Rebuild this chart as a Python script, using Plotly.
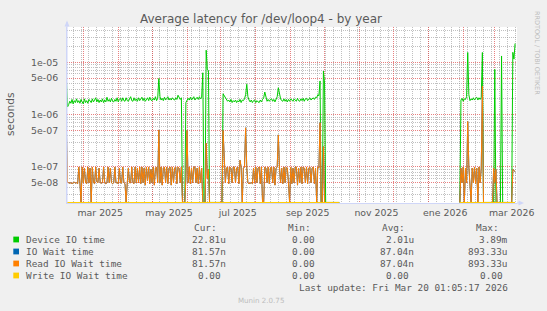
import math
import plotly.graph_objects as go
import pandas as pd

# ---------------- data (daily averages) ----------------
first_day = "2025-02-14"

# Device IO time, microseconds; segment A (Feb 14 .. Jul 2 2025)
device_us_a = [
    5.0, 1.4,
    1.55, 1.8, 1.65, 1.95, 1.6, 1.85, 1.7, 2.0, 1.7, 1.85,
    1.65, 1.95, 1.75, 1.6, 2.0, 1.7, 1.85, 1.65, 1.95, 1.8,
    1.7, 2.0, 1.75, 1.9, 2.1, 1.75, 1.95, 1.7, 1.9, 1.75,
    2.0, 1.7, 1.9, 1.75, 2.15, 1.8, 1.95, 1.75, 2.05, 1.8,
    1.75, 1.95, 1.8, 2.1, 1.75, 1.95, 2.05, 1.8, 2.1, 1.85,
    1.8, 2.1, 1.85, 1.8, 2.0, 2.2, 1.85, 1.8, 2.1, 1.85,
    2.0, 1.8, 2.1, 1.85, 2.0, 2.15, 1.85, 2.05, 1.8, 2.0,
    2.1, 1.85, 2.15, 1.9, 1.85, 2.05, 1.9, 2.2, 1.85, 2.05,
    4.9,
    2.2, 1.9, 2.05, 1.85, 2.15, 1.9, 2.05, 2.2, 1.9, 2.05,
    1.9, 2.1, 1.95, 1.9, 2.1, 1.95, 2.35, 2.2, 1.95, 2.1,
    0, 0, 0,
    1.7, 1.95, 2.05, 1.9, 2.15, 1.9, 2.05, 2.2, 1.9, 2.05, 2.15, 1.95, 2.2, 2.0, 2.15,
    6.3, 0, 0, 17.0, 7.3, 7.0,
    0, 0, 0, 0, 0, 0, 0, 0, 0, 0, 0, 0,
]
# segment B (Jul 3 .. Oct 14 2025)
device_us_b = [
    2.5, 2.3, 2.1, 1.95, 1.8, 1.9, 1.75, 1.95, 1.7, 1.85,
    1.75, 1.9, 1.7, 1.85, 1.75, 1.95, 1.7, 1.9, 1.85, 2.0,
    2.4, 3.8, 2.2, 1.9, 1.75, 1.9, 1.7, 1.85, 1.9, 1.7,
    1.85, 1.75, 1.7, 1.9, 1.75, 1.95, 2.1, 2.7, 2.0, 1.8,
    1.95, 1.8, 1.95, 2.0, 1.8, 1.95, 1.75, 2.0, 2.2, 3.26,
    2.3, 2.0, 1.85, 1.8, 2.0, 1.8, 1.95, 1.75, 1.95, 1.8,
    2.0, 1.85, 1.8, 2.0, 1.85, 1.8, 2.05, 1.85, 1.8, 2.0,
    1.85, 2.05, 1.8, 2.0, 2.05, 1.85, 2.0, 2.1, 1.9, 2.05,
    2.1, 1.95, 2.15, 2.1, 2.4, 2.3, 4.4,
    0, 0, 6.8, 4.0,
    0, 0, 0, 0, 0, 0, 0, 0, 0, 0, 0, 0, 0,
]
# segment C (Jan 28 .. Mar 19 2026)
device_us_c = [
    0,
    1.9, 2.05, 1.8, 2.0, 1.95, 2.2,
    15.4,
    2.4, 1.85, 2.0, 1.9, 2.1, 1.9, 2.05, 2.15, 1.9, 2.1, 1.95, 2.15,
    15.4,
    0, 0, 0, 0, 0, 0, 0, 0, 0, 0,
    7.3,
    0, 0, 0, 0, 0,
    13.2,
    0, 0, 0, 0, 0, 0, 0, 0, 0,
    15.5, 11.5, 22.81,
]

# Read IO wait time (= IO wait time), nanoseconds
read_ns_a = [
    550,
    52, 50, 49, 50, 48, 50, 51, 49, 50, 48,
    100, 50, 0, 100, 50, 95, 50, 48, 100, 50,
    95, 0, 100, 50, 48, 100, 52, 50, 95, 50,
    49, 50, 100, 50, 48, 50, 100, 50, 95, 50,
    48, 50, 100, 50, 50, 48, 95, 50, 49, 100,
    50, 48, 0, 50, 95, 50, 50, 100, 50, 48,
    100, 50, 95, 50, 100, 48, 100, 50, 95, 45,
    100, 55, 100, 48, 90, 50, 100, 45, 95, 100, 50,
    510,
    50, 100, 45, 95, 100, 50, 100, 48, 95, 100,
    45, 100, 50, 95, 100, 48, 100, 95, 50, 100,
    0, 0, 0,
    60, 500,
    50, 100, 48, 95, 50, 100, 100, 50, 95, 48, 100, 50, 95,
    0, 0, 0,
    285, 60, 90,
    0, 0, 0, 0, 0, 0, 0, 0, 0, 0, 0, 0,
]
read_ns_b = [
    500, 100, 50, 95, 100, 48, 100, 95, 50, 100,
    100, 50, 95, 100, 48, 135, 100, 0, 95, 100,
    560, 95, 50, 48, 50, 50, 48, 95, 50, 100,
    50, 95, 100, 48, 100, 0, 0, 100, 95, 50,
    100, 48, 95, 100, 50, 100, 45, 95, 100, 410,
    100, 50, 95, 48, 100, 50, 100, 95, 50, 0,
    100, 48, 95, 50, 100, 100, 45, 95, 50, 100,
    48, 100, 95, 50, 100, 48, 95, 100, 50, 95,
    100, 48, 95, 0, 100, 95, 700,
    0, 0, 245, 0,
    0, 0, 0, 0, 0, 0, 0, 0, 0, 0, 0, 0, 0,
]
read_ns_c = [
    0,
    95, 50, 100, 0, 95, 50,
    740,
    100, 50, 0, 95, 50, 100, 48, 95, 0, 100, 50, 95,
    3500,
    0, 0, 0, 0, 0, 0, 0, 0,
    0, 95, 50, 90,
    0, 0, 0, 0, 0, 0, 0, 0, 0, 0, 0, 0, 0, 0,
    90, 85, 81.57,
]
gap_days = 106  # no data (Oct 15 2025 .. Jan 27 2026)

month_starts = ["2025-03-01", "2025-04-01", "2025-05-01", "2025-06-01", "2025-07-01",
                "2025-08-01", "2025-09-01", "2025-10-01", "2025-11-01", "2025-12-01",
                "2026-01-01", "2026-02-01", "2026-03-01"]
label_pos = ["2025-03-16", "2025-05-16", "2025-07-16", "2025-09-16",
             "2025-11-16", "2026-01-16", "2026-03-16"]
label_txt = ["mar 2025", "may 2025", "jul 2025", "sep 2025",
             "nov 2025", "ene 2026", "mar 2026"]
y_major = [5e-8, 1e-7, 5e-7, 1e-6, 5e-6, 1e-5]
y_major_txt = ["5e-08", "1e-07", "5e-07", "1e-06", "5e-06", "1e-05"]

legend_rows = [
    ("Device IO time", "#00CC00", "22.81u", "0.00", "2.01u", "3.89m"),
    ("IO Wait time", "#0066B3", "81.57n", "0.00", "87.04n", "893.33u"),
    ("Read IO Wait time", "#FF8000", "81.57n", "0.00", "87.04n", "893.33u"),
    ("Write IO Wait time", "#FFCC00", "0.00", "0.00", "0.00", "0.00"),
]

# ---------------- geometry ----------------
W, H = 547, 311
L, R, T, B = 67, 30, 27, 108
PW, PH = W - L - R, H - T - B
YLO, YHI = -7.688, -4.326
FLOOR = 10 ** (YLO + 0.01)  # zero values drawn on the bottom edge (log scale)


def px_x(px):
    return (px - L) / PW


def px_y(py):
    return (H - B - py) / PH


device_raw = device_us_a + device_us_b + [None] * gap_days + device_us_c
read_raw = read_ns_a + read_ns_b + [None] * gap_days + read_ns_c
dates = pd.date_range(first_day, periods=len(device_raw), freq="D")


def to_plot(vals, scale):
    out = []
    for v in vals:
        if v is None:
            out.append(None)
        elif v <= 0:
            out.append(FLOOR)
        else:
            out.append(v * scale)
    return out


device = to_plot(device_raw, 1e-6)
read = to_plot(read_raw, 1e-9)
iowait = list(read)
write = to_plot([None if v is None else 0.0 for v in device_raw], 1.0)

fig = go.Figure()
fig.add_trace(go.Scatter(x=dates, y=device, mode="lines", line=dict(color="#00CC00", width=1),
                         name="Device IO time", connectgaps=False))
fig.add_trace(go.Scatter(x=dates, y=iowait, mode="lines", line=dict(color="#0066B3", width=1),
                         name="IO Wait time", connectgaps=False))
fig.add_trace(go.Scatter(x=dates, y=read, mode="lines", line=dict(color="#FF8000", width=1),
                         name="Read IO Wait time", connectgaps=False))
fig.add_trace(go.Scatter(x=dates, y=write, mode="lines", line=dict(color="#FFCC00", width=1),
                         name="Write IO Wait time", connectgaps=False, xaxis="x2"))

xr = ["2025-02-14 13:00", "2026-03-20 17:00"]
RED = "rgba(220,60,60,0.65)"
GRAY = "rgba(140,140,140,0.55)"
TXT = "#5a5a5a"

y_minor = []
for e in range(-8, -4):
    for m in (2, 3, 4, 6, 7, 8, 9):
        if YLO < (e + math.log10(m)) < YHI:
            y_minor.append(m * 10 ** e)

fig.update_layout(
    width=W, height=H, margin=dict(l=L, r=R, t=T, b=B, pad=0),
    paper_bgcolor="#F0F0F0", plot_bgcolor="#FFFFFF", showlegend=False,
    font=dict(family="DejaVu Sans", size=9.4, color=TXT),
    xaxis=dict(type="date", range=xr, tickmode="array", tickvals=month_starts,
               showticklabels=False, ticks="", showgrid=True, gridcolor=RED,
               griddash="1px,1px", gridwidth=1, zeroline=False, showline=True,
               linecolor="#CFD6F8", linewidth=1, layer="below traces", automargin=False,
               minor=dict(dtick=7 * 86400000, tick0="2025-02-20", showgrid=True,
                          gridcolor=GRAY, griddash="1px,1px", gridwidth=1, ticks="")),
    xaxis2=dict(type="date", range=xr, overlaying="x", anchor="y", side="bottom",
                tickmode="array", tickvals=label_pos, ticktext=label_txt,
                showgrid=False, showline=False, zeroline=False, ticks="",
                tickfont=dict(size=9.4, color=TXT), ticklabelstandoff=3, automargin=False),
    yaxis=dict(type="log", range=[YLO, YHI], tickmode="array", tickvals=y_major,
               ticktext=y_major_txt, showgrid=True, gridcolor=RED, griddash="1px,1px",
               gridwidth=1, ticks="", zeroline=False, showline=True, linecolor="#CFD6F8",
               linewidth=1, layer="below traces", tickfont=dict(size=9.4, color=TXT),
               ticklabelstandoff=6, automargin=False,
               minor=dict(tickmode="array", tickvals=y_minor, showgrid=True,
                          gridcolor=GRAY, griddash="1px,1px", gridwidth=1, ticks="")),
)

shapes = []
# axis arrows
shapes.append(dict(type="line", xref="paper", yref="paper", x0=px_x(67), x1=px_x(67),
                   y0=px_y(203), y1=px_y(22), line=dict(color="#CFD6F8", width=1)))
shapes.append(dict(type="path", xref="paper", yref="paper",
                   path=f"M {px_x(64.5)} {px_y(26.5)} L {px_x(69.5)} {px_y(26.5)} L {px_x(67)} {px_y(20.5)} Z",
                   fillcolor="#CFD6F8", line=dict(width=0)))
shapes.append(dict(type="line", xref="paper", yref="paper", x0=px_x(517), x1=px_x(520),
                   y0=px_y(203), y1=px_y(203), line=dict(color="#CFD6F8", width=1)))
shapes.append(dict(type="path", xref="paper", yref="paper",
                   path=f"M {px_x(518.5)} {px_y(200.5)} L {px_x(518.5)} {px_y(205.5)} L {px_x(524)} {px_y(203)} Z",
                   fillcolor="#CFD6F8", line=dict(width=0)))

ann = []


def text(t, x, y, xa="left", size=9.4, color=TXT, family="DejaVu Sans Mono", angle=0):
    ann.append(dict(text=t, x=px_x(x), y=px_y(y), xref="paper", yref="paper", showarrow=False,
                    xanchor=xa, yanchor="middle", borderpad=0, textangle=angle,
                    font=dict(family=family, size=size, color=color)))


text("Average latency for /dev/loop4 - by year", 261, 19, xa="center", size=12, family="DejaVu Sans")
text("seconds", 11, 114, xa="center", size=10.7, family="DejaVu Sans", angle=-90)
text("RRDTOOL / TOBI OETIKER", 537, 53, xa="center", size=6.5, color="#BDBDBD",
     family="DejaVu Sans", angle=90)

# legend
for hx, h in zip((193.3, 287.3, 381, 475), ("Cur:", "Min:", "Avg:", "Max:")):
    text(h, hx, 227.5)
NB = "\u00a0"
for i, (name, col, cur, mn, avg, mx) in enumerate(legend_rows):
    yy = 239.5 + 12 * i
    shapes.append(dict(type="rect", xref="paper", yref="paper", x0=px_x(13.3), x1=px_x(19),
                       y0=px_y(yy - 2.9), y1=px_y(yy + 2.9), fillcolor=col, line=dict(width=0)))
    text(name, 25, yy)
    for val, rx in zip((cur, mn, avg, mx), (227.3, 320.7, 415, 509.3)):
        s = val if val[-1].isalpha() else val + NB
        text(s, rx, yy, xa="right")
text("Last update: Fri Mar 20 01:05:17 2026", 509.3, 287.7, xa="right")
text("Munin 2.0.75", 260.7, 300.3, xa="center", size=7.1, color="#BDBDBD", family="DejaVu Sans")

fig.update_layout(shapes=shapes, annotations=ann)
fig.write_html("out.html", config={"displayModeBar": False})
